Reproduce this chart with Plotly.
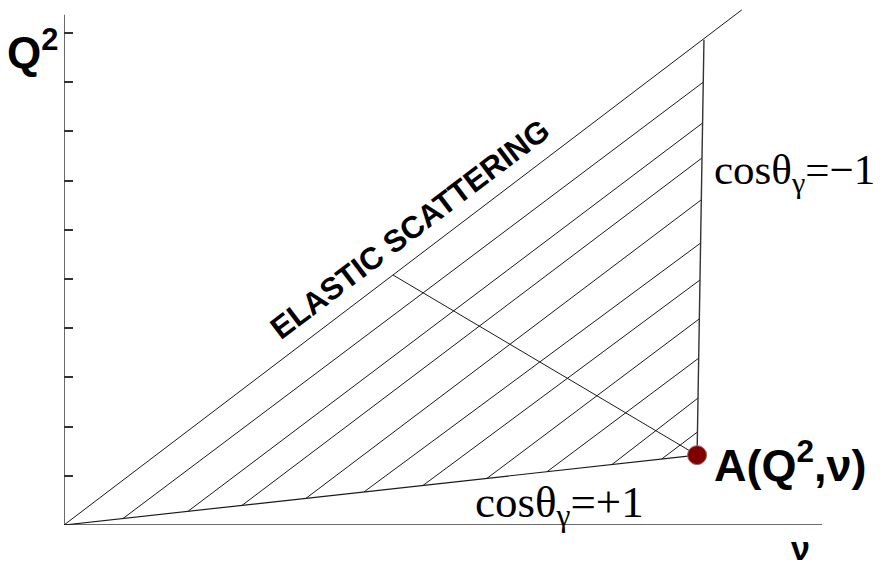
import plotly.graph_objects as go

# ---- data (units: nu horizontal, Q^2 vertical) ----
q2_ticks = [1, 2, 3, 4, 5, 6, 7, 8, 9, 10]
axis_nu_end = 15.41
axis_q2_end = 10.37

elastic_nu = [0.0, 13.78]
elastic_q2 = [0.0, 10.47]

point_A_nu = 12.87
point_A_q2 = 1.42

boundary_top_nu = 13.01
boundary_top_q2 = 9.86

foot_nu = 6.69   # kinematic line foot on elastic line
foot_q2 = 5.08

hatch_start_nu = [1.20, 2.52, 3.62, 4.92, 6.10, 7.30, 8.60, 9.82, 11.14, 12.15]
hatch_end_q2 = [9.00, 8.17, 7.46, 6.61, 5.73, 4.98, 4.19, 3.39, 2.58, 1.89]

# ---- build hatch segments between lower line (origin->A) and right boundary (A->top) ----
hx, hy = [], []
for s_nu, e_q2 in zip(hatch_start_nu, hatch_end_q2):
    s_q2 = s_nu * point_A_q2 / point_A_nu
    t = (e_q2 - point_A_q2) / (boundary_top_q2 - point_A_q2)
    e_nu = point_A_nu + t * (boundary_top_nu - point_A_nu)
    hx += [s_nu, e_nu, None]
    hy += [s_q2, e_q2, None]

LINE = "#1a1a1a"
AXIS = "#6a6a6a"

fig = go.Figure()

# axes
fig.add_trace(go.Scatter(x=[0, axis_nu_end], y=[0, 0], mode="lines",
                         line=dict(color=AXIS, width=2), hoverinfo="skip"))
fig.add_trace(go.Scatter(x=[0, 0], y=[0, axis_q2_end], mode="lines",
                         line=dict(color=AXIS, width=2), hoverinfo="skip"))

# hatch
fig.add_trace(go.Scatter(x=hx, y=hy, mode="lines",
                         line=dict(color=LINE, width=1), hoverinfo="skip"))
# elastic line
fig.add_trace(go.Scatter(x=elastic_nu, y=elastic_q2, mode="lines",
                         line=dict(color=LINE, width=1), hoverinfo="skip"))
# lower boundary (cos = +1)
fig.add_trace(go.Scatter(x=[0, point_A_nu], y=[0, point_A_q2], mode="lines",
                         line=dict(color=LINE, width=1.2), hoverinfo="skip"))
# right boundary (cos = -1)
fig.add_trace(go.Scatter(x=[point_A_nu, boundary_top_nu], y=[point_A_q2, boundary_top_q2],
                         mode="lines", line=dict(color="#333333", width=1.4), hoverinfo="skip"))
# kinematic line to A
fig.add_trace(go.Scatter(x=[foot_nu, point_A_nu], y=[foot_q2, point_A_q2], mode="lines",
                         line=dict(color=LINE, width=1), hoverinfo="skip"))
# point A
fig.add_trace(go.Scatter(x=[point_A_nu], y=[point_A_q2], mode="markers",
                         marker=dict(color="#800000", size=19,
                                     line=dict(color="#9a6a6a", width=1)),
                         cliponaxis=False, hoverinfo="skip"))

SANS = "Liberation Sans, Arial, sans-serif"
SERIF = "Liberation Serif, Times New Roman, serif"

# labels placed in the margins use paper coordinates
fig.add_annotation(text="<b>Q<sup>2</sup></b>", xref="paper", yref="paper",
                   x=-0.039, y=0.905, xanchor="center", yanchor="middle", showarrow=False,
                   font=dict(family=SANS, size=44, color="black"))
fig.add_annotation(text="<b>ν</b>", xref="paper", yref="paper",
                   x=0.898, y=-0.006, xanchor="center", yanchor="top", showarrow=False,
                   borderpad=0,
                   font=dict(family=SANS, size=34, color="black"))

annots = [
    dict(text="<b>A(Q<sup>2</sup>,ν)</b>", x=13.17, y=1.28, xanchor="left", yanchor="middle",
         font=dict(family=SANS, size=45, color="black")),
    dict(text="cosθ<sub>γ</sub>=−1", x=13.17, y=7.15, xanchor="left", yanchor="middle",
         font=dict(family=SERIF, size=43, color="black")),
    dict(text="cosθ<sub>γ</sub>=+1", x=10.08, y=0.41, xanchor="center", yanchor="middle",
         font=dict(family=SERIF, size=45, color="black")),
    dict(text="<b>ELASTIC SCATTERING</b>", x=7.03, y=6.00, xanchor="center", yanchor="middle",
         textangle=-37.2, font=dict(family=SANS, size=31, color="black")),
]
for a in annots:
    fig.add_annotation(showarrow=False, xref="x", yref="y", **a)

fig.update_layout(
    width=884, height=568,
    margin=dict(l=64, r=0, t=0, b=43),
    paper_bgcolor="white", plot_bgcolor="white",
    showlegend=False,
    xaxis=dict(range=[0, 16.67], showgrid=False, zeroline=False, showline=False,
               showticklabels=False, ticks=""),
    yaxis=dict(range=[0, 10.67], showgrid=False, zeroline=False, showline=False,
               showticklabels=False, ticks="inside", ticklen=9, tickwidth=1.5,
               tickcolor="#333333", tickmode="array", tickvals=q2_ticks),
)

fig.write_html("out.html", config={"displayModeBar": False},
               post_script="document.body.style.margin='0';")
